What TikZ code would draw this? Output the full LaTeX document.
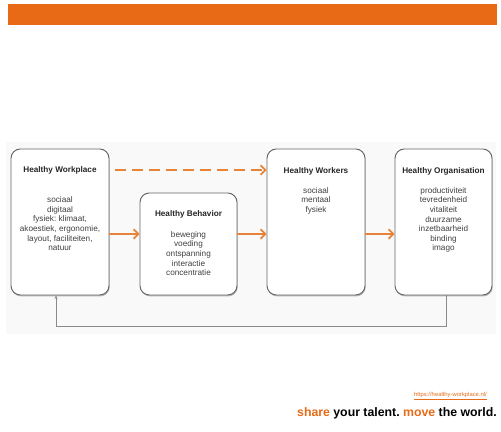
\documentclass[tikz,border=0pt]{standalone}
\usepackage{fontspec}
\setmainfont{Liberation Sans}
\usetikzlibrary{arrows.meta,calc,shadows}
\frenchspacing

\definecolor{hwOrange}{HTML}{E86A17}
\definecolor{hwArrow}{HTML}{E8843A}
\definecolor{hwLine}{HTML}{8A8A8A}

\tikzset{
  box/.style={draw=black!60, line width=0.8pt, fill=white, rounded corners=8pt,
    drop shadow={shadow xshift=0.6pt, shadow yshift=-1.2pt, fill=black!45, opacity=0.6}},
  boxtitle/.style={inner sep=0pt, font=\bfseries\fontsize{7}{8}\selectfont, text=black!85},
  boxitems/.style={inner sep=0pt, anchor=north, align=center, font=\fontsize{7}{8.2}\selectfont, text=black!75},
  flow/.style={hwArrow, line width=1.7pt, -{Straight Barb[length=4pt,width=8pt,line width=1.5pt]}},
}

\begin{document}
\begin{tikzpicture}[x=0.03cm,y=-0.03cm]
\useasboundingbox (0,0) rectangle (501,432);

% top bar
\fill[hwOrange] (8,4) rectangle (497,25);

% light background
\fill[black!2.5] (6,142) rectangle (496,334);

\node[box, minimum width=2.94cm, minimum height=4.38cm] (wp) at (60,222) {};
\node[box, minimum width=2.91cm, minimum height=3.06cm] (hb) at (188.5,244) {};
\node[box, minimum width=2.94cm, minimum height=4.38cm] (hw) at (316,222) {};
\node[box, minimum width=2.91cm, minimum height=4.38cm] (ho) at (443.5,222) {};

\node[boxtitle] (wpT) at ($(wp.north)+(0,22)$) {Healthy Workplace};
\node[boxitems] (wpI) at ($(wp.north)+(0,48)$) {sociaal\\digitaal\\fysiek: klimaat,\\akoestiek, ergonomie,\\layout, faciliteiten,\\natuur};

\node[boxtitle] (hbT) at ($(hb.north)+(0,22)$) {Healthy Behavior};
\node[boxitems] (hbI) at ($(hb.north)+(0,38.5)$) {beweging\\voeding\\ontspanning\\interactie\\concentratie};

\node[boxtitle] (hwT) at ($(hw.north)+(0,22.5)$) {Healthy Workers};
\node[boxitems] (hwI) at ($(hw.north)+(0,38.5)$) {sociaal\\mentaal\\fysiek};

\node[boxtitle] (hoT) at ($(ho.north)+(0,22.5)$) {Healthy Organisation};
\node[boxitems] (hoI) at ($(ho.north)+(0,38.5)$) {productiviteit\\tevredenheid\\vitaliteit\\duurzame\\inzetbaarheid\\binding\\imago};

% arrows
\coordinate (d1) at (0,170);
\coordinate (a1) at (0,234);
\draw[flow, dash pattern=on 9pt off 5.5pt] ($(wp.east |- d1)+(6,0)$) -- (hw.west |- d1);
\draw[flow] (wp.east |- a1) -- (hb.west |- a1);
\draw[flow] (hb.east |- a1) -- (hw.west |- a1);
\draw[flow] (hw.east |- a1) -- (ho.west |- a1);

% feedback
\coordinate (fbR) at (446,326);
\coordinate (fbL) at (56,326);
\draw[hwLine, line width=0.8pt, -{Stealth[length=3pt,width=2.5pt]}]
  (ho.south -| fbR) -- (fbR) -- (fbL) -- (wp.south -| fbL);

% footer
\node[anchor=east, inner sep=0pt, text=hwOrange, font=\fontsize{5}{6}\selectfont] (url) at (487,396) {\underline{https://healthy-workplace.nl/}};
\node[anchor=east, inner sep=0pt, font=\bfseries\fontsize{10.5}{12}\selectfont] (motto) at (497,413)
  {\textcolor{hwOrange}{share} your talent. \textcolor{hwOrange}{move} the world.};
\end{tikzpicture}
\end{document}
